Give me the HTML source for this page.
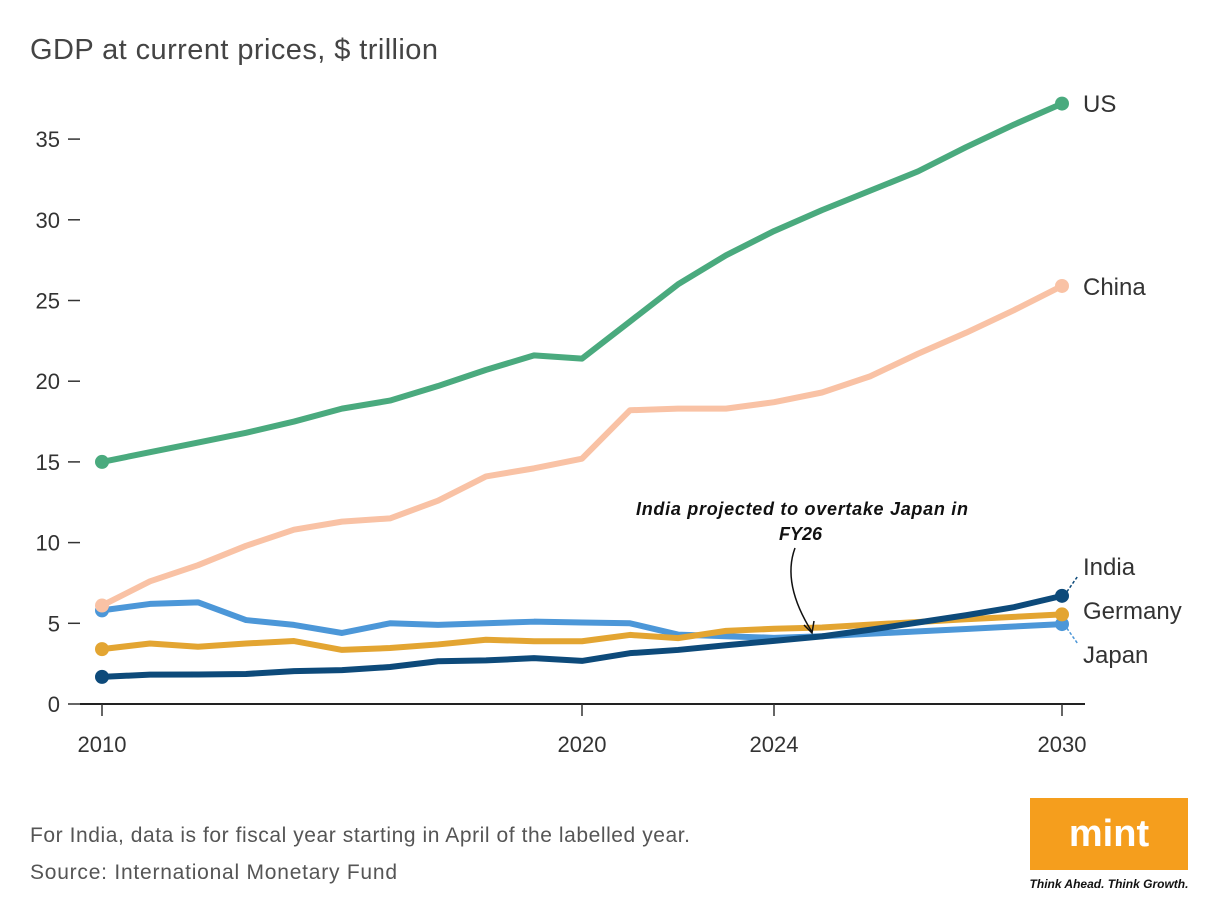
<!DOCTYPE html>
<html><head><meta charset="utf-8"><style>
body{margin:0;background:#fff;width:1220px;height:918px;overflow:hidden;font-family:"Liberation Sans",sans-serif;}
svg text{font-family:"Liberation Sans",sans-serif;}
</style></head><body>
<svg width="1220" height="918">
<text x="30" y="59" font-size="29" fill="#444" textLength="408">GDP at current prices, $ trillion</text>
<g id="axes"></g>
<g id="lines"></g>
<text x="636" y="515" font-size="18" font-weight="bold" font-style="italic" fill="#111" textLength="332">India projected to overtake Japan in</text>
<text x="779" y="540" font-size="18" font-weight="bold" font-style="italic" fill="#111">FY26</text>
<path d="M795,548 C785,575 795,605 812,632" stroke="#111" stroke-width="1.5" fill="none"/>
<path d="M804,625 L812,633 L814,621" stroke="#111" stroke-width="1.5" fill="none"/>
<text x="30" y="842" font-size="21" fill="#555" textLength="660">For India, data is for fiscal year starting in April of the labelled year.</text>
<text x="30" y="879" font-size="21" fill="#555" textLength="367">Source: International Monetary Fund</text>
<rect x="1030" y="798" width="158" height="72" fill="#f59e1d"/>
<text x="1109" y="846" font-size="38" font-weight="bold" fill="#fff" text-anchor="middle" font-family="Liberation Serif">mint</text>
<text x="1109" y="888" font-size="12" font-weight="bold" font-style="italic" fill="#111" text-anchor="middle">Think Ahead. Think Growth.</text>
</svg>
<script>
const years=[2010,2011,2012,2013,2014,2015,2016,2017,2018,2019,2020,2021,2022,2023,2024,2025,2026,2027,2028,2029,2030];
const us=[15.0,15.6,16.2,16.8,17.5,18.3,18.8,19.7,20.7,21.6,21.4,23.7,26.0,27.8,29.3,30.6,31.8,33.0,34.5,35.9,37.2];
const china=[6.1,7.6,8.6,9.8,10.8,11.3,11.5,12.6,14.1,14.6,15.2,18.2,18.3,18.3,18.7,19.3,20.3,21.7,23.0,24.4,25.9];
const japan=[5.8,6.2,6.3,5.2,4.9,4.4,5.0,4.9,5.0,5.1,5.05,5.0,4.3,4.2,4.1,4.2,4.35,4.5,4.65,4.8,4.95];
const germany=[3.4,3.75,3.55,3.75,3.9,3.35,3.47,3.69,3.98,3.89,3.89,4.28,4.08,4.53,4.66,4.74,4.92,5.08,5.25,5.4,5.55];
const india=[1.68,1.82,1.83,1.86,2.04,2.10,2.29,2.65,2.70,2.84,2.67,3.15,3.35,3.64,3.91,4.19,4.6,5.05,5.5,6.0,6.7];
const yTicks=[0,5,10,15,20,25,30,35];
const xTicks=[2010,2020,2024,2030];
const X=y=>102+(y-2010)*48;
const Y=v=>704-v*16.14;
const NS="http://www.w3.org/2000/svg";
function mk(t,a,p){const e=document.createElementNS(NS,t);for(const k in a)e.setAttribute(k,a[k]);p.appendChild(e);return e;}
const ax=document.getElementById('axes');
yTicks.forEach(v=>{
 const t=mk('text',{x:60,y:Y(v)+8,'font-size':22,fill:'#333','text-anchor':'end'},ax);t.textContent=v;
 
 
 const l=mk('line',{x1:68,x2:80,y1:Y(v),y2:Y(v),stroke:'#333','stroke-width':1.5},ax);
 
 
});
const base=mk('line',{x1:80,x2:1085,y1:704,y2:704,stroke:'#222','stroke-width':2},ax);


xTicks.forEach(y=>{
 const l=mk('line',{x1:X(y),x2:X(y),y1:704,y2:716,stroke:'#333','stroke-width':1.5},ax);
 
 
 const t=mk('text',{x:X(y),y:752,'font-size':22,fill:'#333','text-anchor':'middle'},ax);t.textContent=y;
 
 
});
const series=[
 {n:'japan',d:japan,c:'#4c97d8',lab:'Japan',ly:663,lead:true},
 {n:'germany',d:germany,c:'#e3a532',lab:'Germany',ly:619},
 {n:'china',d:china,c:'#f9c2a5',lab:'China',ly:295},
 {n:'india',d:india,c:'#0d4a7a',lab:'India',ly:575,lead:true},
 {n:'us',d:us,c:'#4aaa7e',lab:'US',ly:112}
];
const lg=document.getElementById('lines');
series.forEach(s=>{
 const p=mk('polyline',{points:s.d.map((v,i)=>X(years[i])+','+Y(v)).join(' '),fill:'none',stroke:s.c,'stroke-width':6,'stroke-linejoin':'round','stroke-linecap':'round'},lg);
 
 
 [0,s.d.length-1].forEach(i=>{
  const c=mk('circle',{cx:X(years[i]),cy:Y(s.d[i]),r:7,fill:s.c},lg);
  
  
 });
 const t=mk('text',{x:1083,y:s.ly,'font-size':24,fill:'#333'},lg);t.textContent=s.lab;
 
 
 if(s.lead){
  const yy=Y(s.d[s.d.length-1]);
  const l=mk('line',{x1:1064,y1:yy,x2:1078,y2:s.ly<yy?yy-20:yy+20,stroke:s.c,'stroke-width':1.5,'stroke-dasharray':'3,2'},lg);
  
  
 }
});
</script>
</body></html>
